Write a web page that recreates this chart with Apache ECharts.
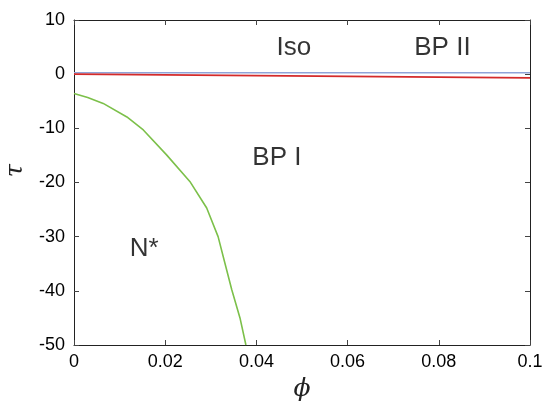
<!DOCTYPE html>
<html><head><meta charset="utf-8">
<script src="https://cdn.jsdelivr.net/npm/echarts@6/dist/echarts.min.js"></script>
<style>html,body{margin:0;padding:0;background:#fff}#c{width:545px;height:403px}</style>
</head><body><div id="c"></div>
<script>
const xTicks = [0, 0.02, 0.04, 0.06, 0.08, 0.1];
const yTicks = [10, 0, -10, -20, -30, -40, -50];
const greenX = [0, 0.003, 0.0064, 0.0116, 0.0152, 0.0203, 0.0254, 0.0291, 0.0316, 0.0331, 0.0346, 0.0364, 0.0377];
const greenY = [-3.55, -4.3, -5.4, -7.9, -10.3, -14.9, -19.8, -24.7, -30.0, -34.9, -39.8, -45.0, -50];
const redX = [0, 0.1];
const redY = [0, -0.7];
const blueX = [0, 0.1];
const blueY = [0.25, 0.25];
const labelX = [0.0482, 0.0808, 0.0445, 0.0154];
const labelY = [4.9, 4.9, -15.4, -32.3];
const labelText = ['Iso', 'BP II', 'BP I', 'N*'];

const zip = (a, b) => a.map((v, i) => [v, b[i]]);
const font = 'Liberation Sans, Arial, sans-serif';
const axisBase = {
  axisLine: {show: true, onZero: false, lineStyle: {color: '#222', width: 1}},
  axisTick: {show: true, inside: true, length: 5, lineStyle: {color: '#444'}},
  splitLine: {show: false}
};
const chart = echarts.init(document.getElementById('c'));
chart.setOption({
  animation: false,
  grid: {left: 74, right: 15, top: 20, bottom: 58, outerBoundsMode: 'none', containLabel: false},
  xAxis: [
    Object.assign({type: 'value', min: 0, max: 0.1, interval: 0.02, position: 'bottom',
      axisLabel: {color: '#000', fontSize: 18, fontFamily: font, margin: 8,
        formatter: v => v === 0 ? '0' : String(+v.toFixed(2))},
      name: 'ϕ', nameLocation: 'middle', nameGap: 32,
      nameTextStyle: {fontSize: 25, fontStyle: 'italic', fontFamily: 'DejaVu Serif, serif', color: '#222'}}, axisBase),
    Object.assign({type: 'value', min: 0, max: 0.1, interval: 0.02, position: 'top',
      axisLabel: {show: false}}, axisBase)
  ],
  yAxis: [
    Object.assign({type: 'value', min: -50, max: 10, interval: 10, position: 'left',
      axisLabel: {color: '#000', fontSize: 18, fontFamily: font, margin: 9},
      name: 'τ', nameLocation: 'middle', nameGap: 35, nameRotate: 90,
      nameTextStyle: {fontSize: 24, fontStyle: 'italic', fontFamily: 'DejaVu Serif, serif', color: '#222', padding: [0, 0, 0, 24]}}, axisBase),
    Object.assign({type: 'value', min: -50, max: 10, interval: 10, position: 'right',
      axisLabel: {show: false}}, axisBase)
  ],
  series: [
    {type: 'line', data: zip(blueX, blueY), symbol: 'none', lineStyle: {color: '#8fa3d8', width: 1.5}},
    {type: 'line', data: zip(redX, redY), symbol: 'none', lineStyle: {color: '#d42a2a', width: 1.8}},
    {type: 'line', data: zip(greenX, greenY), symbol: 'none', smooth: false, lineStyle: {color: '#7cc04a', width: 1.6}},
    {type: 'scatter', data: labelX.map((x, i) => ({value: [x, labelY[i]], name: labelText[i]})),
      symbolSize: 0, silent: true,
      label: {show: true, position: 'inside', formatter: p => p.name, color: '#000', fontSize: 26, fontFamily: font}}
  ]
});
</script></body></html>
